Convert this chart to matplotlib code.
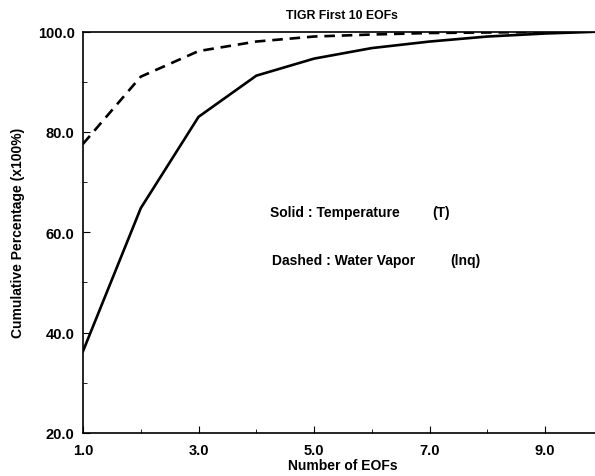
import numpy as np
import matplotlib
matplotlib.use("Agg")
import matplotlib.pyplot as plt
from matplotlib.ticker import MultipleLocator

plt.rcParams['font.family'] = ['Liberation Sans', 'DejaVu Sans']
plt.rcParams['font.weight'] = 'bold'

# number of EOFs and cumulative explained variance (x100%)
n_eofs = [1, 2, 3, 4, 5, 6, 7, 8, 9, 10]
temperature = [36.3, 64.8, 83.0, 91.2, 94.6, 96.7, 98.0, 99.0, 99.6, 100.0]
water_vapor = [77.6, 91.0, 96.1, 98.0, 99.0, 99.4, 99.7, 99.8, 99.9, 100.0]

xticks = [1.0, 3.0, 5.0, 7.0, 9.0]
yticks = [20.0, 40.0, 60.0, 80.0, 100.0]

fig = plt.figure(figsize=(5.95, 4.77), dpi=100)
ax = fig.add_axes([83 / 595, 43 / 477, 520 / 595, 401.5 / 477])

ax.plot(n_eofs, temperature, color='black', lw=1.9, solid_joinstyle='miter')
ax.plot(n_eofs, water_vapor, color='black', lw=1.9, dashes=(4, 2.6))

ax.set_xlim(1, 10)
ax.set_ylim(20, 100)
ax.set_xticks(xticks)
ax.set_yticks(yticks)
ax.set_xticklabels(['%.1f' % v for v in xticks])
ax.set_yticklabels(['%.1f' % v for v in yticks])
ax.xaxis.set_minor_locator(MultipleLocator(1))
ax.yaxis.set_minor_locator(MultipleLocator(10))
ax.tick_params(which='both', direction='in', labelsize=10.5, top=False, right=False)
ax.tick_params(which='major', length=5, width=0.8)
ax.tick_params(which='minor', length=3, width=0.6)
ax.tick_params(axis='x', pad=7)
ax.tick_params(axis='y', pad=6)
for s in ax.spines.values():
    s.set_linewidth(1.2)

ax.set_xlabel('Number of EOFs', fontsize=10, fontweight='bold', labelpad=1)
ax.set_ylabel('Cumulative Percentage (x100%)', fontsize=10, fontweight='bold', labelpad=9)
ax.set_title('TIGR First 10 EOFs', fontsize=8.8, fontweight='bold', x=(342 - 83) / 520, pad=10)

ax.text(4.24, 64.0, 'Solid : Temperature', fontsize=10, fontweight='bold', va='center')
ax.text(7.04, 64.0, '(T)', fontsize=10, fontweight='bold', va='center')
ax.text(4.27, 54.4, 'Dashed : Water Vapor', fontsize=10, fontweight='bold', va='center')
ax.text(7.35, 54.4, '(lnq)', fontsize=10, fontweight='bold', va='center')

fig.savefig('out.png', dpi=100)
